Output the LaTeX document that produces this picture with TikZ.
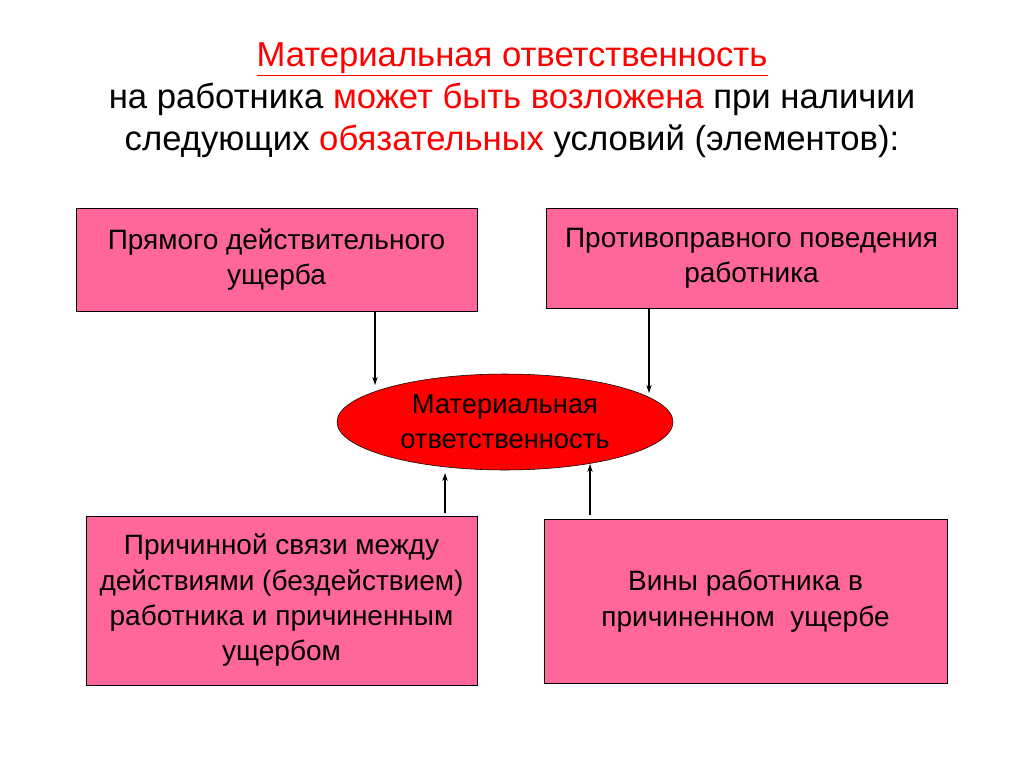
\documentclass[tikz,border=0pt]{standalone}
\usepackage{fontspec}
\setmainfont{Liberation Sans}
\usetikzlibrary{arrows.meta,shapes.geometric}
\definecolor{pinkbox}{HTML}{FF6699}
\definecolor{tred}{HTML}{FF0000}
\begin{document}
\begin{tikzpicture}[x=0.75pt,y=-0.75pt,
  box/.style={draw=black,fill=pinkbox,font=\fontsize{21}{26.5}\selectfont,align=center,inner sep=0},
  arr/.style={-{Stealth[length=6pt,width=4pt]},thick}]
\useasboundingbox (0,0) rectangle (1024,767);
\node[font=\fontsize{26}{31.5}\selectfont,align=center] (title) at (512,100)
 {\textcolor{tred}{\underline{Материальная ответственность}}\\
  на работника \textcolor{tred}{может быть возложена} при наличии\\
  следующих \textcolor{tred}{обязательных} условий (элементов):};
\node[box,minimum width=301pt,minimum height=77pt] (b1) at (276.5,259.5) {Прямого действительного\\ущерба};
\node[box,minimum width=308pt,minimum height=75pt] (b2) at (751.5,258) {Противоправного поведения\\работника};
\node[draw=black,fill=tred,ellipse,minimum width=252pt,minimum height=72pt,inner sep=0,
  font=\fontsize{20.5}{26.5}\selectfont,align=center] (e) at (505,422) {Материальная\\ответственность};
\node[box,minimum width=293pt,minimum height=127pt] (b3) at (281.5,600.5) {Причинной связи между\\действиями (бездействием)\\работника и причиненным\\ущербом};
\node[box,minimum width=302pt,minimum height=123pt] (b4) at (745.5,601) {Вины работника в\\причиненном\ \ ущербе};
\coordinate (c1) at (375,385);
\coordinate (c2) at (649,393);
\coordinate (c3s) at (445,513); \coordinate (c3e) at (445,473);
\coordinate (c4s) at (590,515); \coordinate (c4e) at (590,464);
\draw[arr] (b1.south -| c1) -- (c1);
\draw[arr] (b2.south -| c2) -- (c2);
\draw[arr] (c3s) -- (c3e);
\draw[arr] (c4s) -- (c4e);
\end{tikzpicture}
\end{document}
